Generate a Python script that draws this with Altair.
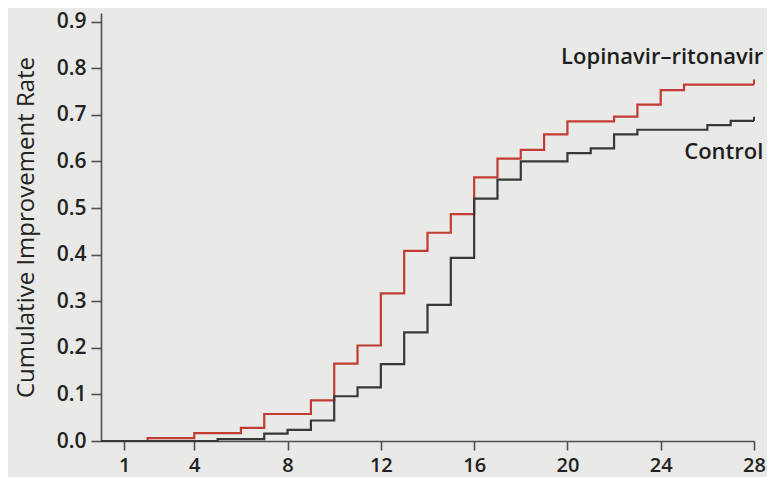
import altair as alt
import pandas as pd

# Lopinavir-ritonavir step curve (day, cumulative improvement rate)
lpv_days = [0, 2, 4, 6, 7, 9, 10, 11, 12, 13, 14, 15, 16, 17, 18, 19, 20, 22, 23, 24, 25, 28]
lpv_vals = [0.0, 0.006, 0.017, 0.028, 0.058, 0.087, 0.166, 0.205, 0.317, 0.408, 0.447, 0.487,
            0.566, 0.606, 0.625, 0.658, 0.686, 0.696, 0.722, 0.753, 0.765, 0.765]

# Control step curve
ctl_days = [0, 5, 7, 8, 9, 10, 11, 12, 13, 14, 15, 16, 17, 18, 20, 21, 22, 23, 26, 27, 28]
ctl_vals = [0.0, 0.004, 0.016, 0.024, 0.044, 0.096, 0.115, 0.165, 0.233, 0.292, 0.393, 0.52,
            0.561, 0.60, 0.618, 0.628, 0.658, 0.668, 0.678, 0.687, 0.687]

groups = ["Lopinavir\u2013ritonavir", "Control"]
colors = ["#C23C33", "#383838"]
x_ticks = [1, 4, 8, 12, 16, 20, 24, 28]
y_ticks = [0.0, 0.1, 0.2, 0.3, 0.4, 0.5, 0.6, 0.7, 0.8, 0.9]
label_y = [0.824, 0.621]

rows = []
for d, v in zip(lpv_days, lpv_vals):
    rows.append({"day": d, "rate": v, "group": groups[0]})
for d, v in zip(ctl_days, ctl_vals):
    rows.append({"day": d, "rate": v, "group": groups[1]})
df = pd.DataFrame(rows)

ends = pd.DataFrame({
    "day": [lpv_days[-1], ctl_days[-1]],
    "rate": [lpv_vals[-1], ctl_vals[-1]],
    "rate2": [lpv_vals[-1] + 0.011, ctl_vals[-1] + 0.009],
    "group": groups,
})
labels = pd.DataFrame({"day": [28.4, 28.4], "rate": label_y, "group": groups})

FONT = "Open Sans"

x = alt.X("day:Q", scale=alt.Scale(domain=[0, 28], nice=False, zero=False),
          axis=alt.Axis(values=x_ticks, title=None, grid=False, tickSize=9,
                        labelFontSize=20, labelPadding=5, labelFont=FONT,
                        labelFontWeight=600, labelColor="#222222",
                        domainColor="#505050", tickColor="#505050",
                        domainWidth=1.6, tickWidth=1.6, labelFlush=False))
y = alt.Y("rate:Q", scale=alt.Scale(domain=[0, 0.9186], nice=False),
          axis=alt.Axis(values=y_ticks, format=".1f", title="Cumulative Improvement Rate",
                        grid=False, tickSize=10, labelFontSize=21, labelPadding=5,
                        labelFont=FONT, labelFontWeight=600, labelColor="#222222",
                        titleFont=FONT, titleFontSize=24, titleFontWeight=500,
                        titleColor="#222222", titlePadding=18,
                        domainColor="#505050", tickColor="#505050",
                        domainWidth=1.6, tickWidth=1.6))

color = alt.Color("group:N", scale=alt.Scale(domain=groups, range=colors), legend=None)

lines = alt.Chart(df).mark_line(interpolate="step-after", strokeWidth=2.2).encode(
    x=x, y=y, color=color, order=alt.Order("day:Q"))

ticks = alt.Chart(ends).mark_rule(strokeWidth=2).encode(
    x="day:Q", y="rate:Q", y2="rate2:Q", color=color)

text = alt.Chart(labels).mark_text(align="right", baseline="middle", font=FONT,
                                   fontSize=22, fontWeight=600, color="#1E1E1E").encode(
    x="day:Q", y="rate:Q", text="group:N")

chart = alt.layer(lines, ticks, text).properties(
    width=653, height=428,
    autosize=alt.AutoSizeParams(type="none"),
    padding={"left": 93, "top": 5, "right": 13, "bottom": 36},
    background="#E9E9E7",
).configure_view(stroke=None)

chart.save("out.html", embed_options={"renderer": "svg", "actions": False})
